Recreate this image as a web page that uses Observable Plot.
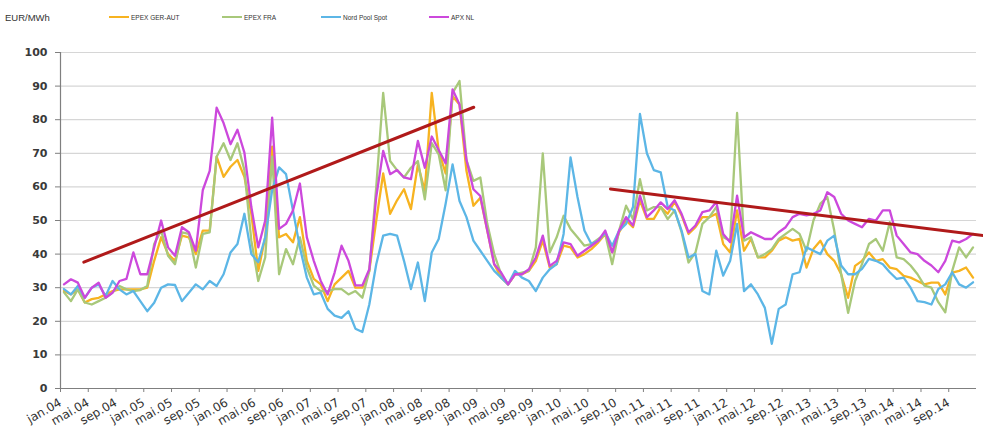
<!DOCTYPE html>
<html>
<head>
<meta charset="utf-8">
<script src="https://cdn.jsdelivr.net/npm/d3@7"></script>
<script src="https://cdn.jsdelivr.net/npm/@observablehq/plot@0.6"></script>
<style>
  html, body { margin: 0; padding: 0; background: #fff; }
  #wrap { position: relative; width: 983px; height: 432px; overflow: hidden; font-family: "Liberation Sans", Arial, sans-serif; }
  #chart { position: absolute; left: 0; top: 0; }
  .unit { position: absolute; left: 5px; top: 12px; font-size: 9.5px; color: #333; }
  .leg { position: absolute; top: 13px; height: 8px; display: flex; align-items: center; font-size: 6.5px; color: #333; white-space: nowrap; }
  .leg .sw { width: 20px; height: 2px; margin-right: 2px; }
</style>
</head>
<body>
<div id="wrap">
  <div id="chart"></div>
  <div class="unit">EUR/MWh</div>
  <div id="legend"></div>
</div>
<script>
// ---- Data (monthly, jan.04 .. dec.14) ----
const seriesNames = ["EPEX GER-AUT", "EPEX FRA", "Nord Pool Spot", "APX NL"];
const seriesColors = ["#F7B320", "#A8C87A", "#5CB6E6", "#CC48DC"];

const epexGerAut = [
  29,28,29.5,25.6,26.6,27,28,29,29.5,29.5,29.5,29.5,
  30,38,45,40,38,45.5,45,40,47,47,69,63,
  66,68,63,52,35,45,72,45,46,43.5,51,38,
  32.6,31,26,31,33,35,30,30,35,50,64,52,
  56,59.3,53.4,66.7,58.8,88,70.7,64,87,84.5,64.8,54.4,
  56.8,47,37,33,31,34,34,35,38,44,36,37,
  42.5,42,39,40,41.5,43.5,46,40.5,46.5,50,48,56,
  50.5,50.5,54,52,55.5,51.5,46,48,51,51,52,43,
  40.5,53,41,44.5,39,39,41,44,45,44,44.5,36,
  41.5,44,40,38,34,27,36.5,38,40.5,38,38.5,36,
  35.5,33.5,33,32,31,31.5,31.5,28,34.5,35,36,33
];
const epexFra = [
  28.6,26,29.5,25.6,25,26,27,28.6,30.5,29.5,29,29.3,
  30.5,43,47,39.5,37,46.5,46,36,46,46.5,69,73,
  68,73,65,44,32,39,69,34,41.5,37,45,36,
  30.6,29,29,29.6,29.6,28,29,27,35,60,88,67.7,
  65,62.8,65.7,67.7,56.3,73,69.7,59,88,91.5,68,61.8,
  62.8,49,40,34,31,34,34.5,35,42,70,40.5,45,
  51.4,47.5,45,42.5,43,44.5,46,37,47,54.4,50.4,62.3,
  53,54,54,50.4,53,46.5,37.5,40.5,49,51,54,45,
  44,82,44,45,39,40,41.5,44.5,46,47.5,46,41,
  50,55,57,47,34,22.5,32,37,43,44.5,41,49.5,
  39,38.5,36.6,34,30.6,30,25.7,22.7,35,42,39,42
];
const nordPool = [
  29.6,28,30.5,27,30,31,27.5,32,29.5,28,29,26,
  23,25.5,30,31,30.8,26,28.5,31,29.5,32,30.5,34,
  40.5,43,52,40,37.6,45,59,65.8,63.8,53,42,33,
  28,28.5,23.7,21.7,21,23,17.8,16.8,25,37,45.5,46,
  45.5,38,29.6,37.5,26,40.5,44.5,55,66.7,55.8,51,44,
  41,38,35,33,31,35,33,32,29,33,35.5,37,
  46,68.8,57,47,43,44,46.5,42.5,47,49,54,81.7,
  70,65,64.3,54,53,47,39,40,29,28,41,33.6,
  38,49,29,31,28,24,13.3,23.7,25,34,34.6,42,
  41,40,44,45.5,36.6,34,34,35.6,38.6,38,37,34.6,
  32.6,33,30,26,25.7,25,29.6,31,34.6,31,30,31.6
];
const apxNl = [
  31,32.5,31.5,27,30,31.5,27,28.5,32,32.6,40.5,34,
  34,42,50,42,39.5,48,46.5,41,59,64.8,83.6,79,
  72.7,77,70.2,54,42,50,80.6,47.5,49,53,61,45,
  38,32,28,34.5,42.5,38,30.7,30.7,35.5,57,70.7,63.8,
  65,62.8,62.3,73.7,65.7,75,71,67,89,84.5,68,59.3,
  57.3,47,37,34.5,31,34,34,35.5,39,45.5,36.5,38,
  43.5,43,39.5,41,42.5,44,47,40.5,47,51,48.5,57.4,
  51,53,55.4,53.4,56,52,46.5,48.5,52.5,53,55.5,46,
  43.5,57.4,45,46.5,45.5,44.5,44.5,46.5,48,51,52,51.5,
  52,53,58.4,57,52,50,49,48,50.5,50,53,53,
  45.5,43,40.5,40,38,36.6,34.6,38,44,43.5,44.5,46
];

// Trend lines (month position, EUR/MWh)
const trend1Month = [3.36, 59.55];
const trend1Value = [37.6, 83.7];
const trend2Month = [79.25, 134.9];
const trend2Value = [59.4, 45.0];

const tickLabels = [
  "jan.04","mai.04","sep.04","jan.05","mai.05","sep.05","jan.06","mai.06","sep.06",
  "jan.07","mai.07","sep.07","jan.08","mai.08","sep.08","jan.09","mai.09","sep.09",
  "jan.10","mai.10","sep.10","jan.11","mai.11","sep.11","jan.12","mai.12","sep.12",
  "jan.13","mai.13","sep.13","jan.14","mai.14","sep.14"
];
const yTicks = [0,10,20,30,40,50,60,70,80,90,100];

// ---- Build tables ----
const allSeries = [epexGerAut, epexFra, nordPool, apxNl];
const rows = allSeries.flatMap((vals, s) =>
  vals.map((v, i) => ({ m: i + 0.5, v, name: seriesNames[s] })));
const trends = [
  ...trend1Month.map((m, i) => ({ m, v: trend1Value[i], g: 1 })),
  ...trend2Month.map((m, i) => ({ m, v: trend2Value[i], g: 2 }))
];
const xTicks = tickLabels.map((_, k) => k * 4);

const chart = Plot.plot({
  width: 983,
  height: 432,
  marginLeft: 60,
  marginRight: 7,
  marginTop: 52,
  marginBottom: 44,
  style: { background: "white", fontFamily: "DejaVu Sans", color: "#333" },
  x: { domain: [0, 132], axis: null },
  y: { domain: [0, 100], axis: null },
  color: { domain: seriesNames, range: seriesColors },
  marks: [
    Plot.gridY(yTicks.filter(d => d > 0), { stroke: "#d6d6d6", strokeOpacity: 1, strokeWidth: 1.2 }),
    Plot.axisY(yTicks, {
      label: null,
      tickSize: 5, tickPadding: 8, stroke: "#7f7f7f",
      fontSize: 11, fontWeight: "bold", fill: "#3a3a3a",
      letterSpacing: 1.5
    }),
    Plot.axisX(xTicks, {
      label: null,
      tickSize: 4, tickPadding: 9, stroke: "#7f7f7f",
      tickRotate: -30, fontSize: 12, fill: "#333",
      tickFormat: d => tickLabels[d / 4]
    }),
    Plot.ruleX([0], { y1: 0, y2: 100, stroke: "#7f7f7f", strokeWidth: 1.2 }),
    Plot.ruleY([0], { stroke: "#7f7f7f", strokeWidth: 1.2 }),
    Plot.line(rows, { x: "m", y: "v", z: "name", stroke: "name", strokeWidth: 2.3, strokeLinejoin: "round" }),
    Plot.line(trends, { x: "m", y: "v", z: "g", stroke: "#B01A1A", strokeWidth: 3 })
  ]
});
document.getElementById("chart").appendChild(chart);

// ---- Legend (HTML above the plot area) ----
const legendLeft = [109, 222, 321, 429];
const legend = document.getElementById("legend");
seriesNames.forEach((n, i) => {
  const d = document.createElement("div");
  d.className = "leg";
  d.style.left = legendLeft[i] + "px";
  d.innerHTML = `<span class="sw" style="background:${seriesColors[i]}"></span><span>${n}</span>`;
  legend.appendChild(d);
});
</script>
</body>
</html>
